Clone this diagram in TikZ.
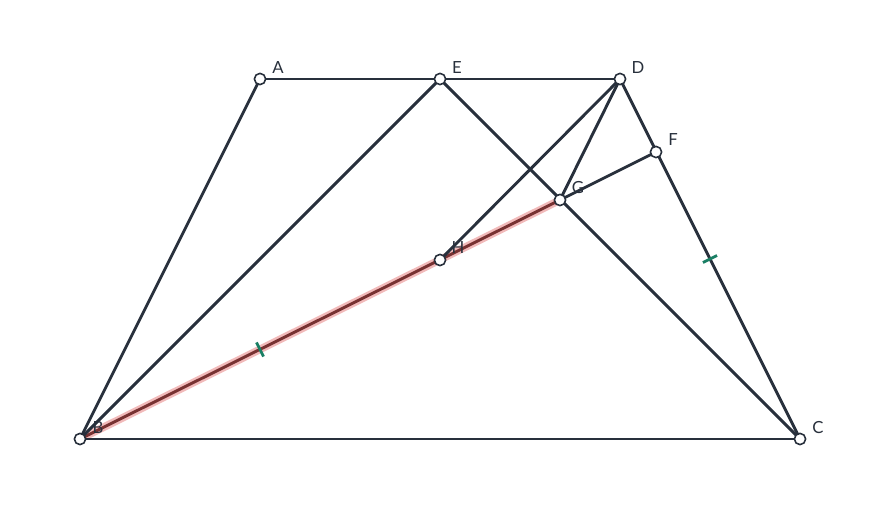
\documentclass[tikz,border=0pt]{standalone}
\usepackage{fontspec}
\setmainfont{Lato}
\usepackage{tikz}
\usetikzlibrary{calc, backgrounds}
\definecolor{slate}{RGB}{40,48,60}
\definecolor{tickgreen}{RGB}{26,127,100}
\definecolor{segred}{RGB}{120,50,50}
\definecolor{glowred}{RGB}{232,140,140}
\tikzset{
  pt/.style={circle, draw=slate, fill=white, line width=0.9pt, minimum size=6.4pt, inner sep=0pt},
  lbl/.style={text=slate, font=\fontsize{9.5}{11}\selectfont, inner sep=0pt},
  seg/.style={draw=slate, line width=1.65pt},
  tickmark/.style={draw=tickgreen, line width=1.6pt}
}

\begin{document}
\begin{tikzpicture}[x=0.02cm, y=-0.02cm]
\useasboundingbox (0,0) rectangle (880,520);

\node[pt] (A) at (260,79) {};
\node[pt] (E) at (440,79) {};
\node[pt] (D) at (620,79) {};
\node[pt] (F) at (656,152) {};
\node[pt] (G) at (560,200) {};
\node[pt] (H) at (440,260) {};
\node[pt] (B) at (80,439) {};
\node[pt] (C) at (800,439) {};

\begin{scope}[on background layer]
% highlighted segment
\draw[glowred, opacity=0.6, line width=4.4pt] (B.center) -- (G.center);
\draw[segred, line width=1.65pt] (B.center) -- (G.center);

\draw[seg] (A.center) -- (D.center);
\draw[seg] (A.center) -- (B.center);
\draw[seg] (B.center) -- (C.center);
\draw[seg] (D.center) -- (C.center);
\draw[seg] (B.center) -- (E.center);
\draw[seg] (E.center) -- (C.center);
\draw[seg] (D.center) -- (H.center);
\draw[seg] (D.center) -- (G.center);
\draw[seg] (G.center) -- (F.center);
\end{scope}

% equal marks
\coordinate (mBH) at ($(B)!0.5!(H)$);
\coordinate (mDC) at ($(D)!0.5!(C)$);
\draw[tickmark] ($(mBH)!4.5pt!90:(H)$) -- ($(mBH)!4.5pt!-90:(H)$);
\draw[tickmark] ($(mDC)!4.5pt!90:(C)$) -- ($(mDC)!4.5pt!-90:(C)$);

\node[lbl] (lA) at ($(A)+(18,-11)$) {A};
\node[lbl] (lE) at ($(E)+(17,-11)$) {E};
\node[lbl] (lD) at ($(D)+(18,-11)$) {D};
\node[lbl] (lF) at ($(F)+(17,-12)$) {F};
\node[lbl] (lG) at ($(G)+(18,-12)$) {G};
\node[lbl] (lH) at ($(H)+(18,-12)$) {H};
\node[lbl] (lB) at ($(B)+(18,-11)$) {B};
\node[lbl] (lC) at ($(C)+(18,-11)$) {C};

\end{tikzpicture}
\end{document}
